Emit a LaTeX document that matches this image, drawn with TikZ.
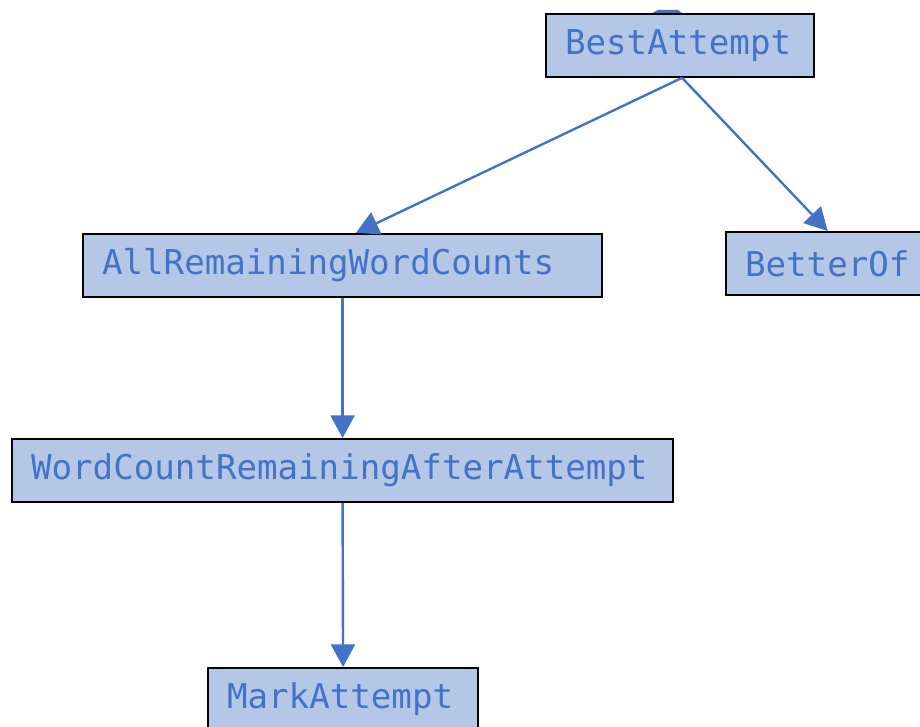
\documentclass[tikz,border=0pt]{standalone}
\usepackage{fontspec}
\usepackage{xcolor}
\usepackage{tikz}
\usetikzlibrary{arrows.meta,positioning,calc}
\newfontfamily\monofont{DejaVu Sans Mono}
\definecolor{boxfill}{HTML}{B4C7E7}
\definecolor{edgeblue}{HTML}{4472C4}

\begin{document}
\begin{tikzpicture}[x=0.75pt,y=-0.75pt,
		box/.style={draw=black,line width=1.6pt,fill=boxfill,text=edgeblue,
			font=\monofont\fontsize{25.6}{30}\selectfont,anchor=north west,
			inner xsep=14.25pt,inner ysep=0pt,minimum height=47pt,align=left,text width=#1},
		link/.style={edgeblue,line width=1.8pt,-{Triangle[width=18pt,length=17pt]}}]
		\useasboundingbox (0,0) rectangle (920,727);
		\node[box=172.5pt] (best) at (545,13) {BestAttempt};
		\node[box=360.75pt] (allcounts) at (82,233) {AllRemainingWordCounts};
		\node[box=125.25pt] (better) at (725,231) {BetterOf};
		\node[box=467.25pt] (wordcount) at (11,438) {WordCountRemainingAfterAttempt};
		\node[box=174pt] (mark) at (207,667) {MarkAttempt};
		% bit of the edge coming in from above
		\fill[edgeblue] (652,13) -- (658,10) -- (678,10) -- (682,13) -- cycle;
		\draw[link] ([xshift=1.5pt]best.south) -- ([xshift=10pt]allcounts.north);
		\draw[link] ([xshift=1.5pt]best.south) -- ([xshift=77pt]better.north west);
		\draw[link] (allcounts.south) -- (wordcount.north);
		\draw[link] (wordcount.south) -- (mark.north);
	\end{tikzpicture}
\end{document}
